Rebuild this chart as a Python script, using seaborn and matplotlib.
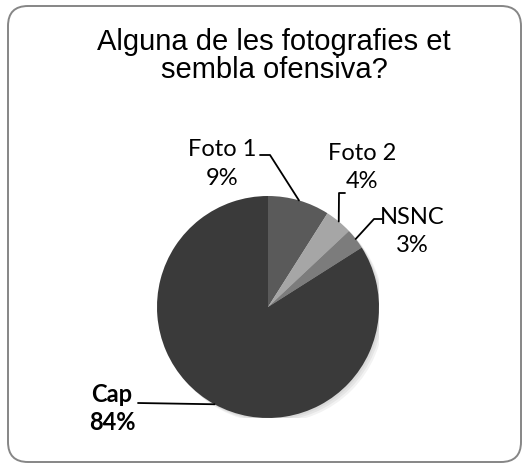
import matplotlib
matplotlib.use("Agg")
import matplotlib.pyplot as plt
import seaborn as sns
import numpy as np
from matplotlib.patches import FancyBboxPatch

categories = ["Foto 1", "Foto 2", "NSNC", "Cap"]
values = [9, 4, 3, 84]
pct_labels = ["9%", "4%", "3%", "84%"]
colors = ["#5a5a5a", "#a6a6a6", "#7c7c7c", "#3a3a3a"]
title_lines = ["Alguna de les fotografies et", "sembla ofensiva?"]

sns.set_theme(style="white")
plt.rcParams["font.family"] = ["Lato", "DejaVu Sans"]

W, H = 523, 465
fig = plt.figure(figsize=(W / 100, H / 100), dpi=100)
fig.patch.set_facecolor("white")

# rounded frame
frame = FancyBboxPatch((8 / 100, (H - 462) / 100), 513 / 100, 456 / 100,
                       boxstyle="round,pad=0,rounding_size=0.2",
                       transform=fig.dpi_scale_trans, facecolor="none",
                       edgecolor="#868686", linewidth=1.4, zorder=5)
fig.patches.append(frame)

cx, cy, r = 268, 307, 111
ax = fig.add_axes([(cx - r) / W, (H - cy - r) / H, 2 * r / W, 2 * r / H])
ax.patch.set_alpha(0)
# soft shadow
for k, a in enumerate([0.05, 0.05, 0.05]):
    ax.add_patch(plt.Circle((0.015 * (k + 1), -0.015 * (k + 1)), 1.0,
                            color="black", alpha=a, linewidth=0, zorder=0))
wedges, _ = ax.pie(values, colors=colors, startangle=90, counterclock=False,
                   radius=1.0, wedgeprops=dict(linewidth=0, zorder=2))
ax.set_xlim(-1, 1)
ax.set_ylim(-1, 1)
ax.set_aspect("equal")
ax.axis("off")

fig.text(274 / W, 1 - 42 / H, title_lines[0],
         ha="center", va="center", fontsize=21, family=["Liberation Sans"], color="#000000")
fig.text(274 / W, 1 - 70 / H, title_lines[1],
         ha="center", va="center", fontsize=21, family=["Liberation Sans"], color="#000000")

# label positions (pixels: name center)
label_pos = [(222, 150), (362, 153), (412, 217), (112, 394)]
# leader line starting points (pixels)
line_start = [[(260, 155), (270, 155)], [(345, 193), (339, 193)], [(382, 219), (374, 219)], [(138, 403), (138, 403)]]

total = sum(values)
cum = 0
for i, (cat, v) in enumerate(zip(categories, values)):
    mid = 90 - (cum + v / 2) / total * 360
    cum += v
    ex, ey = np.cos(np.radians(mid)), np.sin(np.radians(mid))
    px = cx + r * ex
    py = cy - r * ey
    bold = "bold" if cat == "Cap" else "normal"
    lx, ly = label_pos[i]
    fig.text(lx / W, 1 - ly / H, cat, ha="center", va="center", fontsize=17,
             fontweight=bold, color="black")
    fig.text(lx / W, 1 - (ly + 28) / H, pct_labels[i], ha="center", va="center",
             fontsize=17, fontweight=bold, color="black")
    pts = line_start[i] + [(px, py)]
    xs = [p[0] / W for p in pts]
    ys = [1 - p[1] / H for p in pts]
    fig.add_artist(plt.Line2D(xs, ys, color="black", linewidth=1.3))

fig.savefig("out.png", dpi=100)
